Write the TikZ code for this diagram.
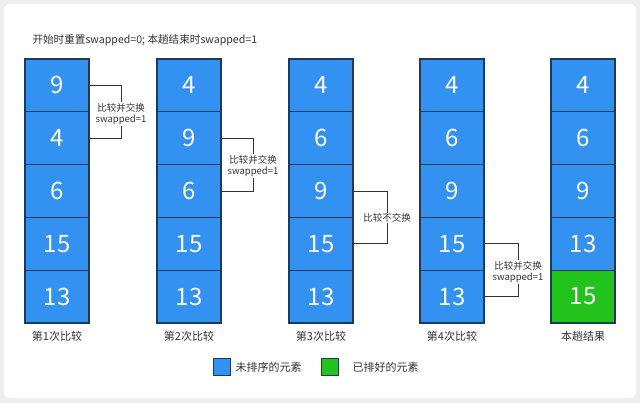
\documentclass[tikz,border=0pt]{standalone}
\usepackage{fontspec}
\setmainfont{Noto Sans CJK SC}
\definecolor{cellblue}{HTML}{3391F2}
\definecolor{cellgreen}{HTML}{22C31C}
\definecolor{celledge}{HTML}{1D3A57}
\definecolor{txtgrey}{HTML}{333333}
\definecolor{bggrey}{HTML}{EEEEEE}
\tikzset{
  cell/.style={draw=celledge, line width=1.3pt, fill=cellblue, minimum width=64pt, minimum height=52.8pt, inner sep=0pt, text=white, font=\fontsize{24}{24}\selectfont},
  done/.style={cell, fill=cellgreen},
  bracket/.style={draw=txtgrey, line width=0.9pt},
  note/.style={fill=white, inner sep=1pt, text=txtgrey, font=\fontsize{9.5}{11}\selectfont, align=center},
  caption/.style={text=txtgrey, font=\fontsize{11}{12}\selectfont},
  legbox/.style={draw=celledge, line width=1.2pt, minimum width=17pt, minimum height=17pt, inner sep=0pt}
}
\begin{document}
\begin{tikzpicture}[x=1pt,y=-1pt]
\useasboundingbox (0,0) rectangle (640,403);
\fill[bggrey] (0,0) rectangle (640,403);
\fill[white, rounded corners=6pt] (4,4) rectangle (636,398);
\node[caption, anchor=west, font=\fontsize{10.6}{12}\selectfont] (title) at (29,40) {开始时重置swapped=0; 本趟结束时swapped=1};
% column 1
\node[cell] (a1) at (57,85.4) {9};
\node[cell] (a2) at (57,138.2) {4};
\node[cell] (a3) at (57,191) {6};
\node[cell] (a4) at (57,243.8) {15};
\node[cell] (a5) at (57,296.6) {13};
% column 2
\node[cell] (b1) at (189,85.4) {4};
\node[cell] (b2) at (189,138.2) {9};
\node[cell] (b3) at (189,191) {6};
\node[cell] (b4) at (189,243.8) {15};
\node[cell] (b5) at (189,296.6) {13};
% column 3
\node[cell] (c1) at (321,85.4) {4};
\node[cell] (c2) at (321,138.2) {6};
\node[cell] (c3) at (321,191) {9};
\node[cell] (c4) at (321,243.8) {15};
\node[cell] (c5) at (321,296.6) {13};
% column 4
\node[cell] (d1) at (452,85.4) {4};
\node[cell] (d2) at (452,138.2) {6};
\node[cell] (d3) at (452,191) {9};
\node[cell] (d4) at (452,243.8) {15};
\node[cell] (d5) at (452,296.6) {13};
% column 5
\node[cell] (e1) at (583,85.4) {4};
\node[cell] (e2) at (583,138.2) {6};
\node[cell] (e3) at (583,191) {9};
\node[cell] (e4) at (583,243.8) {13};
\node[done] (e5) at (583,296.6) {15};
% brackets
\draw[bracket] (a1.east) -- ++(32,0) |- (a2.east);
\node[note] (n1) at (121,114) {比较并交换\\swapped=1};
\draw[bracket] (b2.east) -- ++(32,0) |- (b3.east);
\node[note] (n2) at (253,166) {比较并交换\\swapped=1};
\draw[bracket] (c3.east) -- ++(34,0) |- (c4.east);
\node[note] (n3) at (387,218) {比较不交换};
\draw[bracket] (d4.east) -- ++(34,0) |- (d5.east);
\node[note] (n4) at (518,272) {比较并交换\\swapped=1};
% captions
\node[caption] (l1) at (57,336) {第1次比较};
\node[caption] (l2) at (189,336) {第2次比较};
\node[caption] (l3) at (321,336) {第3次比较};
\node[caption] (l4) at (452,336) {第4次比较};
\node[caption] (l5) at (583,336) {本趟结果};
% legend
\node[legbox, fill=cellblue] (k1) at (222,367) {};
\node[caption, anchor=west] (k1t) at (232,367) {未排序的元素};
\node[legbox, fill=cellgreen] (k2) at (330,367) {};
\node[caption, anchor=west] (k2t) at (349,367) {已排好的元素};
\end{tikzpicture}
\end{document}
